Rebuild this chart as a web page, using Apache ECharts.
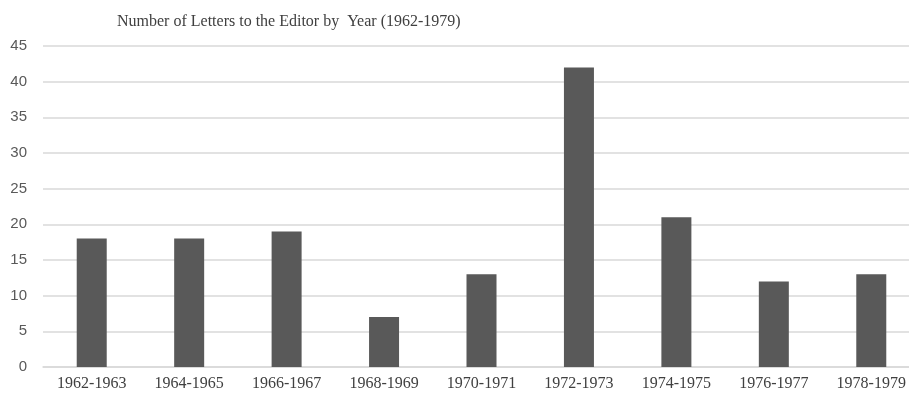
<!DOCTYPE html>
<html>
<head>
<meta charset="utf-8">
<script src="https://cdn.jsdelivr.net/npm/echarts@6/dist/echarts.min.js"></script>
<style>
  html, body { margin: 0; padding: 0; background: #fff; overflow: hidden; }
  /* source picture is cropped on the right, so the chart runs past the window */
  #chart { width: 920px; height: 394px; }
</style>
</head>
<body>
<div id="chart"></div>
<script>
const titleText = 'Number of Letters to the Editor by  Year (1962-1979)'
const periods = ['1962-1963', '1964-1965', '1966-1967', '1968-1969', '1970-1971',
  '1972-1973', '1974-1975', '1976-1977', '1978-1979']
const letters = [18, 18, 19, 7, 13, 42, 21, 12, 13]

const chart = echarts.init(document.getElementById('chart'))

chart.setOption({
  animation: false,
  title: {
    text: titleText,
    left: 112,
    top: 9,
    textStyle: {
      fontFamily: 'Liberation Serif',
      fontWeight: 'normal',
      fontSize: 16,
      color: '#404040'
    }
  },
  grid: {
    left: 43,
    right: 0,
    top: 46,
    bottom: 27,
    containLabel: false
  },
  xAxis: {
    type: 'category',
    data: periods,
    axisLine: { lineStyle: { color: '#d9d9d9', width: 1.5 } },
    axisTick: { show: false },
    axisLabel: {
      fontFamily: 'Liberation Serif',
      fontSize: 16,
      color: '#404040',
      margin: 9
    }
  },
  yAxis: {
    type: 'value',
    min: 0,
    max: 45,
    interval: 5,
    axisLine: { show: false },
    axisTick: { show: false },
    splitLine: { lineStyle: { color: '#d9d9d9', width: 1.5 } },
    axisLabel: {
      fontFamily: 'Liberation Sans',
      fontSize: 15,
      color: '#595959',
      margin: 16
    }
  },
  series: [
    {
      type: 'bar',
      data: letters,
      barWidth: 30,
      itemStyle: { color: '#595959' }
    }
  ]
})
</script>
</body>
</html>
